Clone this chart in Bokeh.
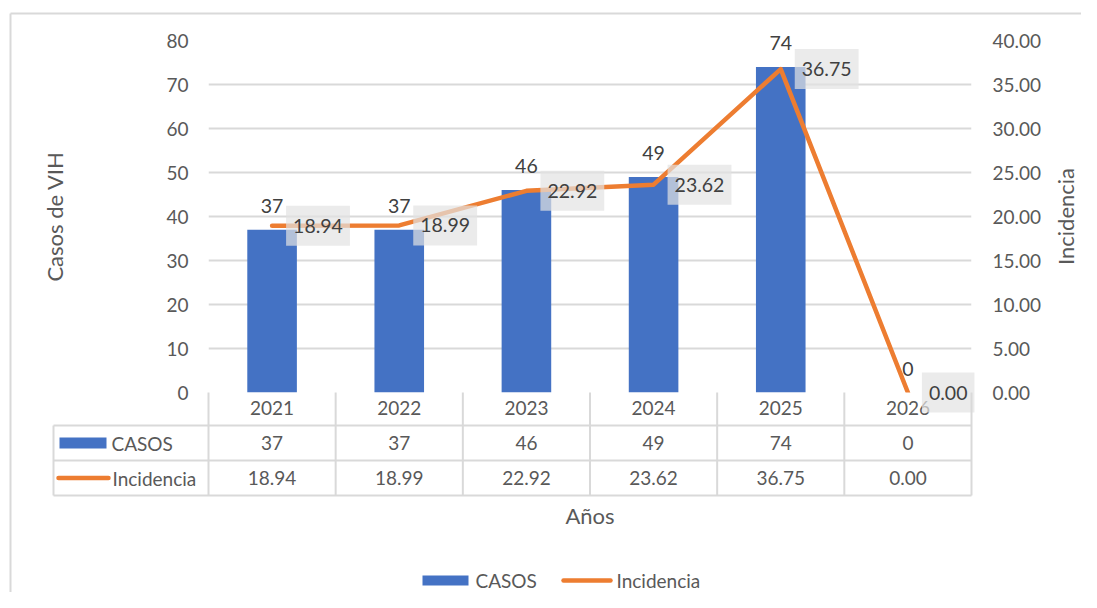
import math
from bokeh.plotting import figure
from bokeh.models import (Range1d, LinearAxis, FixedTicker, PrintfTickFormatter,
                          FactorRange)
from bokeh.core.properties import value
from bokeh.embed import file_html
from bokeh.resources import INLINE

# ---------------- data ----------------
years = ["2021", "2022", "2023", "2024", "2025", "2026"]
casos = [37, 37, 46, 49, 74, 0]
incidencia = [18.94, 18.99, 22.92, 23.62, 36.75, 0.00]
casos_ticks = [0, 10, 20, 30, 40, 50, 60, 70, 80]
incid_ticks = [0, 5, 10, 15, 20, 25, 30, 35, 40]
series_names = ["CASOS", "Incidencia"]
x_title = "Años"
y_title = "Casos de VIH"
y2_title = "Incidencia"

# ---------------- layout (pixels from the figure's top-left) ----------------
W, H = 1081, 592
FL, FT, FR, FB = 208, 40, 971, 392
BLUE = "#4472C4"
ORANGE = "#ED7D31"
GRID = "#D9D9D9"
TXT = "#595959"
LBL = "#404040"
FONT = "Lato"

colw = (FR - FL) / len(years)
ymax = casos_ticks[-1]
ppu = (FB - FT) / ymax


def xd(px):
    return (years[0], (px - FL) / colw - 0.5)


def yd(py):
    return (FB - py) / ppu


p = figure(width=W, height=H, x_range=FactorRange(*years), y_range=Range1d(0, ymax),
           output_backend="svg", toolbar_location=None,
           min_border_left=FL, min_border_top=FT,
           min_border_right=W - FR, min_border_bottom=H - FB)
p.extra_y_ranges = {"inc": Range1d(0, incid_ticks[-1])}
p.outline_line_color = None
p.background_fill_color = "white"
p.border_fill_color = "white"

# grid
p.xgrid.grid_line_color = None
p.ygrid.ticker = FixedTicker(ticks=casos_ticks)
p.ygrid.grid_line_color = GRID
p.ygrid.grid_line_width = 2


def style_axis(ax):
    ax.axis_line_color = None
    ax.major_tick_line_color = None
    ax.minor_tick_line_color = None
    ax.major_tick_out = 0
    ax.major_tick_in = 0
    ax.major_label_text_font = FONT
    ax.major_label_text_font_size = "19px"
    ax.major_label_text_color = TXT
    ax.axis_label_text_font = FONT
    ax.axis_label_text_font_size = "22px"
    ax.axis_label_text_color = TXT
    ax.axis_label_text_font_style = "normal"


ly = p.yaxis[0]
ly.ticker = FixedTicker(ticks=casos_ticks)
style_axis(ly)
ly.major_label_standoff = 20
ly.axis_label = y_title
ly.axis_label_standoff = 95

ry = LinearAxis(y_range_name="inc", ticker=FixedTicker(ticks=incid_ticks),
                formatter=PrintfTickFormatter(format="%.2f"))
style_axis(ry)
ry.major_label_standoff = 21
p.add_layout(ry, "right")

bx = p.xaxis[0]
style_axis(bx)
bx.major_label_standoff = 8
bx.axis_label = x_title
bx.axis_label_standoff = 84

# bars and line
bars = p.vbar(x=years, top=casos, width=0.39, fill_color=BLUE, line_color=None)
line = p.line(x=years, y=incidencia, y_range_name="inc", line_color=ORANGE,
              line_width=4.5, line_join="round", line_cap="round")

# bar data labels
p.text(x=years, y=casos, text=[str(c) for c in casos], text_align="center",
       text_baseline="alphabetic", y_offset=-24, text_font=value(FONT),
       text_font_size="19.5px", text_color=LBL, level="overlay")

# line data labels
p.text(x=years, y=incidencia, y_range_name="inc", text=["%.2f" % v for v in incidencia],
       text_align="left", text_baseline="middle", x_offset=14,
       text_font=value(FONT), text_font_size="19.5px", text_color=LBL,
       background_fill_color="#E2E2E2", background_fill_alpha=0.7,
       padding=dict(left=7, right=7, top=13, bottom=13),
       level="overlay")

# right axis title (reads bottom-to-top, as in the reference)
p.text(x=[xd(1065)], y=[yd((FT + FB) / 2)], text=[y2_title], angle=math.pi / 2,
       text_align="center", text_baseline="middle", text_font=value(FONT),
       text_font_size="22px", text_color=TXT, level="overlay")

# ---------------- data table ----------------
row_y = [425, 460, 495]
edges = [(y, -0.5) for y in years] + [(years[-1], 0.5)]
p.segment(x0=[xd(53)] * 3, x1=[xd(FR)] * 3, y0=[yd(r) for r in row_y],
          y1=[yd(r) for r in row_y], line_color=GRID, line_width=2, level="overlay")
p.segment(x0=edges, x1=edges, y0=[yd(FB)] * len(edges),
          y1=[yd(495)] * len(edges), line_color=GRID, line_width=2, level="overlay")
p.segment(x0=[xd(53)], x1=[xd(53)], y0=[yd(425)], y1=[yd(495)], line_color=GRID,
          line_width=2, level="overlay")
p.text(x=years, y=[yd(442.5)] * len(years), text=[str(c) for c in casos],
       text_align="center", text_baseline="middle", text_font=value(FONT),
       text_font_size="19px", text_color=TXT, level="overlay")
p.text(x=years, y=[yd(477.5)] * len(years), text=["%.2f" % v for v in incidencia],
       text_align="center", text_baseline="middle", text_font=value(FONT),
       text_font_size="19px", text_color=TXT, level="overlay")
# legend keys in the table's header column
p.quad(left=[xd(59)], right=[xd(106)], top=[yd(437)], bottom=[yd(448)],
       fill_color=BLUE, line_color=None, level="overlay")
p.line(x=[xd(58), xd(108)], y=[yd(477.5)] * 2, line_color=ORANGE, line_width=4.5,
       line_cap="round", level="overlay")
p.text(x=[xd(111), xd(112)], y=[yd(442.5), yd(477.5)], text=series_names,
       text_align="left", text_baseline="middle", text_font=value(FONT),
       text_font_size="19px", text_color=TXT, level="overlay")

# ---------------- legend (below the chart) ----------------
p.quad(left=[xd(422)], right=[xd(468)], top=[yd(575)], bottom=[yd(585)],
       fill_color=BLUE, line_color=None, level="overlay")
p.line(x=[xd(563), xd(610)], y=[yd(580)] * 2, line_color=ORANGE, line_width=4.5,
       line_cap="round", level="overlay")
p.text(x=[xd(475), xd(616)], y=[yd(580), yd(580)], text=series_names,
       text_align="left", text_baseline="middle", text_font=value(FONT),
       text_font_size="19px", text_color=TXT, level="overlay")

# outer chart border
p.segment(x0=[xd(10), xd(10)], x1=[xd(10), xd(1200)], y0=[yd(13), yd(13)],
          y1=[yd(700), yd(13)], line_color=GRID, line_width=2, level="overlay")

open("out.html", "w").write(file_html(p, INLINE))
